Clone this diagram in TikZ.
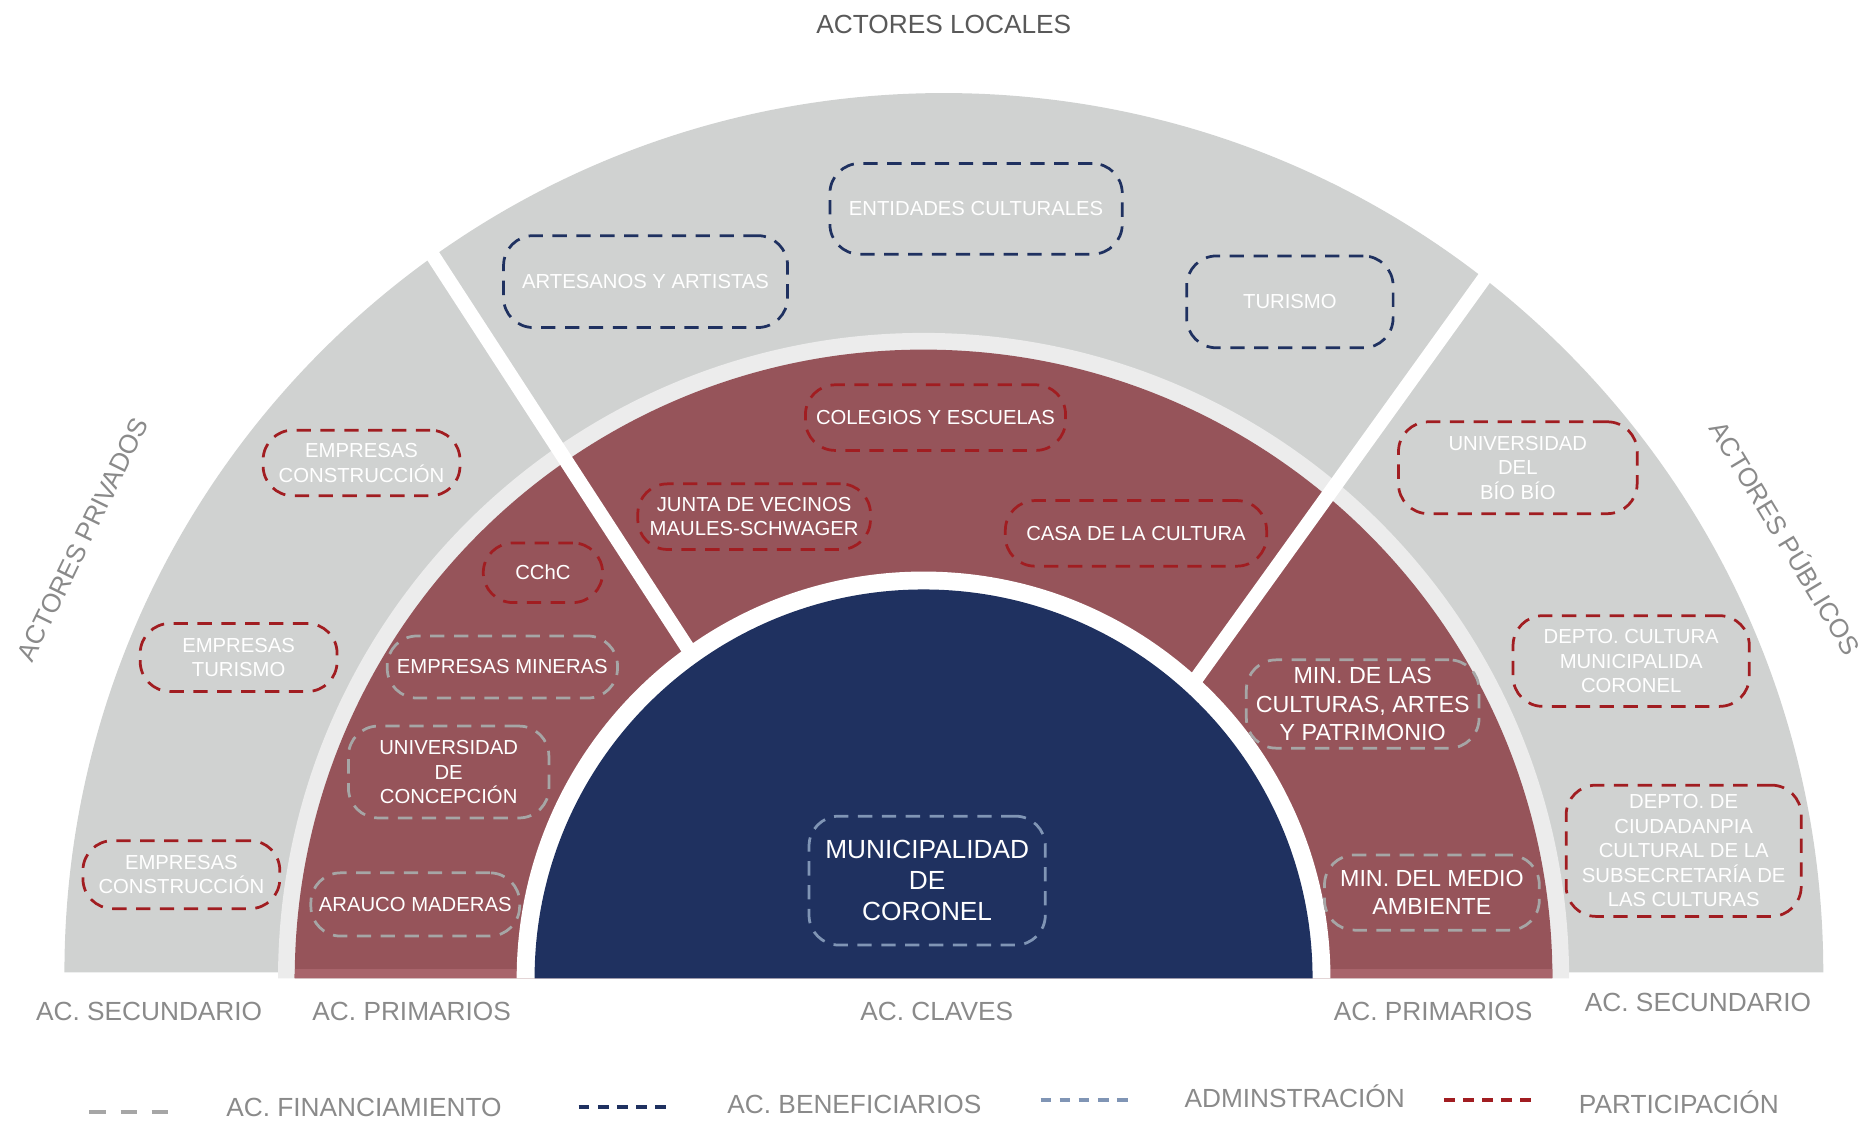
\documentclass[tikz,border=0pt]{standalone}
\usepackage{fontspec}
\setmainfont{Liberation Sans}

\definecolor{gris}{HTML}{D0D2D1}
\definecolor{grisclaro}{HTML}{ECECEC}
\definecolor{rojo}{HTML}{96545A}
\definecolor{rojoclaro}{HTML}{A8646B}
\definecolor{azul}{HTML}{1F3160}
\definecolor{rojoborde}{HTML}{A11D21}
\definecolor{grisborde}{HTML}{A6A6A6}
\definecolor{celeste}{HTML}{8095B5}
\definecolor{texto}{HTML}{8A8A8A}
\definecolor{titulo}{HTML}{595959}

\begin{document}
\begin{tikzpicture}[x=1pt,y=1pt,
  actor/.style={rounded corners=25pt,line width=2.3pt,dash pattern=on 12pt off 8pt,
    text=white,align=center,inner sep=0pt,font=\fontsize{17}{20.5}\selectfont},
  fin/.style={actor,draw=grisborde},
  ben/.style={actor,draw=azul},
  adm/.style={actor,draw=celeste},
  par/.style={actor,draw=rojoborde},
  etiqueta/.style={text=texto,text height=16pt,text depth=0pt,font=\fontsize{22}{26}\selectfont}]
\useasboundingbox (0,0) rectangle (1568,942);
% ---------- semicirculos ----------
\fill[gris] (54,127) arc[start angle=180,end angle=0,radius=737] -- cycle;
\fill[grisclaro] (233,122) arc[start angle=180,end angle=0,radius=541] -- cycle;
\fill[rojo] (247,122) arc[start angle=180,end angle=0,radius=527] -- cycle;
\begin{scope}
\clip (247,122) arc[start angle=180,end angle=0,radius=527] -- cycle;
\fill[rojoclaro] (240,122) rectangle (1310,130);
\end{scope}
% separadores
\draw[white,line width=12pt] (610,347) -- (347,752);
\draw[white,line width=12pt] (970,328) -- (1257,727);
\fill[white] (433,122) arc[start angle=180,end angle=0,radius=341] -- cycle;
\fill[azul] (448,122) arc[start angle=180,end angle=0,radius=326] -- cycle;
% ---------- actores locales ----------
\node[ben,minimum width=245pt,minimum height=76pt] (entidades) at (818,767) {ENTIDADES CULTURALES};
\node[ben,minimum width=238pt,minimum height=77pt] (artesanos) at (541,706) {ARTESANOS Y ARTISTAS};
\node[ben,minimum width=173pt,minimum height=77pt] (turismo) at (1081,689) {TURISMO};
\node[par,minimum width=218pt,minimum height=55pt] (colegios) at (784,592) {COLEGIOS Y ESCUELAS};
\node[par,minimum width=195pt,minimum height=55pt] (junta) at (632,509) {JUNTA DE VECINOS\\MAULES-SCHWAGER};
\node[par,minimum width=219pt,minimum height=55pt] (casa) at (952,495) {CASA DE LA CULTURA};
% ---------- actores privados ----------
\node[par,minimum width=165pt,minimum height=55pt] (construccionA) at (303,554) {EMPRESAS\\CONSTRUCCIÓN};
\node[par,minimum width=165pt,minimum height=57pt] (turismoP) at (200,391) {EMPRESAS\\TURISMO};
\node[par,minimum width=165pt,minimum height=57pt] (construccionB) at (152,209) {EMPRESAS\\CONSTRUCCIÓN};
\node[par,minimum width=100pt,minimum height=50pt] (cchc) at (455,462) {CChC};
\node[fin,minimum width=193pt,minimum height=52pt] (mineras) at (421,383) {EMPRESAS MINERAS};
\node[fin,minimum width=168pt,minimum height=77pt] (udec) at (376,295) {UNIVERSIDAD\\DE\\CONCEPCIÓN};
\node[fin,minimum width=175pt,minimum height=53pt] (arauco) at (348,184) {ARAUCO MADERAS};
% ---------- actores publicos ----------
\node[par,minimum width=200pt,minimum height=77pt] (ubb) at (1272,550) {UNIVERSIDAD\\DEL\\BÍO BÍO};
\node[par,minimum width=198pt,minimum height=76pt] (depto) at (1367,388) {DEPTO. CULTURA\\MUNICIPALIDA\\CORONEL};
\node[par,minimum width=197pt,minimum height=110pt] (ciudadania) at (1411,229) {DEPTO. DE\\CIUDADANPIA\\CULTURAL DE LA\\SUBSECRETARÍA DE\\LAS CULTURAS};
\node[fin,minimum width=195pt,minimum height=74pt,font=\fontsize{19.5}{24}\selectfont] (mincap) at (1142,352) {MIN. DE LAS\\CULTURAS, ARTES\\Y PATRIMONIO};
\node[fin,minimum width=180pt,minimum height=63pt,font=\fontsize{19.5}{23}\selectfont] (mma) at (1200,194) {MIN. DEL MEDIO\\AMBIENTE};
% ---------- actor clave ----------
\node[adm,minimum width=198pt,minimum height=108pt,font=\fontsize{22}{26}\selectfont] (municipalidad) at (777,204) {MUNICIPALIDAD\\DE\\CORONEL};
% ---------- rotulos ----------
\node[etiqueta,text=titulo] (locales) at (791,922) {ACTORES LOCALES};
\node[etiqueta,rotate=64] (privados) at (69,490) {ACTORES PRIVADOS};
\node[etiqueta,rotate=-59] (publicos) at (1496,491) {ACTORES PÚBLICOS};
\node[etiqueta] (secundarioI) at (125,95) {AC. SECUNDARIO};
\node[etiqueta] (primariosI) at (345,95) {AC. PRIMARIOS};
\node[etiqueta] (claves) at (785,95) {AC. CLAVES};
\node[etiqueta] (primariosD) at (1201,95) {AC. PRIMARIOS};
\node[etiqueta] (secundarioD) at (1423,102) {AC. SECUNDARIO};
% ---------- leyenda ----------
\draw[grisborde,line width=3pt,dash pattern=on 14pt off 12pt] (75,10) -- (152,10);
\node[etiqueta] (lfin) at (305,14) {AC. FINANCIAMIENTO};
\draw[azul,line width=3.5pt,dash pattern=on 9pt off 7pt] (485,14) -- (565,14);
\node[etiqueta] (lben) at (716,17) {AC. BENEFICIARIOS};
\draw[celeste,line width=3.5pt,dash pattern=on 9pt off 7pt] (872,20) -- (952,20);
\node[etiqueta] (ladm) at (1085,22) {ADMINSTRACIÓN};
\draw[rojoborde,line width=3.5pt,dash pattern=on 9pt off 7pt] (1210,20) -- (1290,20);
\node[etiqueta] (lpar) at (1407,17) {PARTICIPACIÓN};
\end{tikzpicture}
\end{document}
